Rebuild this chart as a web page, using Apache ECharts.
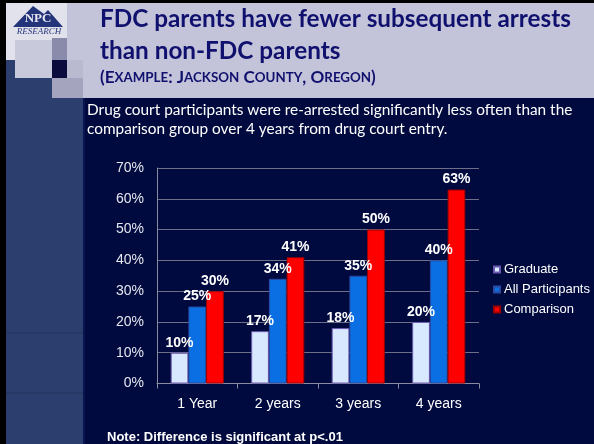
<!DOCTYPE html>
<html><head><meta charset="utf-8">
<script src="https://cdn.jsdelivr.net/npm/echarts@6/dist/echarts.min.js"></script>
<style>html,body{margin:0;padding:0;background:#010a3f;}#c{width:594px;height:444px;}</style>
</head><body><div id="c"></div>
<script>
// ---- data ----
const categories = ['1 Year', '2 years', '3 years', '4 years'];
const graduate = [10, 17, 18, 20];
const allParticipants = [25, 34, 35, 40];
const comparison = [30, 41, 50, 63];
const seriesNames = ['Graduate', 'All Participants', 'Comparison'];
const yTicks = [0, 10, 20, 30, 40, 50, 60, 70];

const titleLine1 = 'FDC parents have fewer subsequent arrests';
const titleLine2 = 'than non-FDC parents';
const subtitleParts = [['(E','b'],['XAMPLE','s'],[': J','b'],['ACKSON','s'],[' C','b'],['OUNTY','s'],[', O','b'],['REGON','s'],[')','b']];
const bodyLine1 = 'Drug court participants were re-arrested significantly less often than the';
const bodyLine2 = 'comparison group over 4 years from drug court entry.';
const noteText = 'Note: Difference is significant at p<.01';

// ---- font fitting ----
const cv = document.createElement('canvas').getContext('2d');
function w(text, weight, family, size){ cv.font = weight + ' ' + size + 'px ' + family; return cv.measureText(text).width; }
function fit(text, weight, family, target){ return 100 * target / w(text, weight, family, 100); }
const TF = 'Lato';
const titleSize = fit(titleLine1, 'bold', TF, 471);
const bodySize = fit(bodyLine1, 'normal', TF, 486);
const noteSize = fit(noteText, 'bold', 'Liberation Sans', 236);
// subtitle small caps
const smallRatio = 0.78;
let subUnit = 0;
subtitleParts.forEach(p => { subUnit += w(p[0], 'bold', TF, p[1] === 'b' ? 100 : 100 * smallRatio); });
const subBig = 100 * 276 / subUnit;
const subSmall = subBig * smallRatio;
let subText = subtitleParts.map(p => '{' + p[1] + '|' + p[0] + '}').join('');

const chart = echarts.init(document.getElementById('c'), null, {renderer: 'canvas'});
const lab = {show: true, position: 'top', distance: 3, color: '#ffffff', fontWeight: 'bold', fontSize: 14,
  fontFamily: 'Liberation Sans, Arial, sans-serif', formatter: '{c}%'};

const option = {
  backgroundColor: '#010a3f',
  animation: false,
  graphic: [
    {type: 'rect', shape: {x: 0, y: 0, width: 594, height: 98}, style: {fill: '#c3c3d9'}, z: -10},
    {type: 'rect', shape: {x: 0, y: 60, width: 83, height: 384}, style: {fill: '#2b3e6e'}, z: -9},
    {type: 'rect', shape: {x: 83, y: 98, width: 2, height: 346}, style: {fill: '#0a1450'}, z: -9},
    {type: 'line', shape: {x1: 6, y1: 333, x2: 83, y2: 333}, style: {stroke: '#24365f', lineWidth: 1}, z: -8},
    {type: 'line', shape: {x1: 6, y1: 393, x2: 83, y2: 393}, style: {stroke: '#24365f', lineWidth: 1}, z: -8},
    {type: 'rect', shape: {x: 6, y: 3, width: 61, height: 57}, style: {fill: '#e2e2ec'}, z: -8},
    {type: 'rect', shape: {x: 67, y: 60, width: 16, height: 18}, style: {fill: '#b9b9cf'}, z: -8},
    {type: 'rect', shape: {x: 52, y: 78, width: 31, height: 20}, style: {fill: '#a4a4be'}, z: -8},
    {type: 'rect', shape: {x: 15, y: 40, width: 37, height: 38}, style: {fill: '#c9c9dc'}, z: -7},
    {type: 'rect', shape: {x: 52, y: 38, width: 15, height: 22}, style: {fill: '#8a8aaa'}, z: -7},
    {type: 'rect', shape: {x: 52, y: 60, width: 15, height: 18}, style: {fill: '#0b0b3e'}, z: -7},
    {type: 'rect', shape: {x: 0, y: 0, width: 594, height: 3}, style: {fill: '#000000'}, z: -5},
    {type: 'rect', shape: {x: 0, y: 0, width: 6, height: 444}, style: {fill: '#000000'}, z: -5},
    // logo
    {type: 'polygon', shape: {points: [[13, 27], [33, 6], [44, 14], [48, 10], [63, 27]]}, style: {fill: '#24347a'}, z: -4},
    {type: 'text', style: {x: 38, y: 19, text: 'NPC', fill: '#e6e6f0', font: 'bold 13px "Liberation Serif", serif', textAlign: 'center', textVerticalAlign: 'middle'}, z: -3},
    {type: 'text', style: {x: 39, y: 32, text: 'RESEARCH', fill: '#2a3a7e', font: 'italic 9px "Liberation Serif", serif', textAlign: 'center', textVerticalAlign: 'middle'}, z: -3},
    // titles
    {type: 'text', style: {x: 100, y: 27 - titleSize * 0.32, text: titleLine1, fill: '#10106e', font: 'bold ' + titleSize + 'px ' + TF, textVerticalAlign: 'middle'}},
    {type: 'text', style: {x: 100, y: 58.5 - titleSize * 0.32, text: titleLine2, fill: '#10106e', font: 'bold ' + titleSize + 'px ' + TF, textVerticalAlign: 'middle'}},
    {type: 'text', style: {x: 100, y: 83 - subBig * 0.32, text: subText, fill: '#10106e', textVerticalAlign: 'middle',
      rich: {b: {fontSize: subBig, fontWeight: 'bold', fontFamily: TF, fill: '#10106e', color: '#10106e'},
             s: {fontSize: subSmall, fontWeight: 'bold', fontFamily: TF, fill: '#10106e', color: '#10106e'}}}},
    {type: 'text', style: {x: 87, y: 115 - bodySize * 0.32, text: bodyLine1, fill: '#ffffff', font: bodySize + 'px ' + TF, textVerticalAlign: 'middle'}},
    {type: 'text', style: {x: 87, y: 133.5 - bodySize * 0.32, text: bodyLine2, fill: '#ffffff', font: bodySize + 'px ' + TF, textVerticalAlign: 'middle'}},
    {type: 'text', style: {x: 107, y: 437, text: noteText, fill: '#ffffff', font: 'bold ' + noteSize + 'px "Liberation Sans", Arial', textVerticalAlign: 'middle'}}
  ],
  legend: {
    orient: 'vertical', left: 493, top: 263, icon: 'rect', itemWidth: 6, itemHeight: 6, itemGap: 7, padding: 0,
    data: seriesNames,
    textStyle: {color: '#ffffff', fontSize: 13, fontFamily: 'Liberation Sans, Arial, sans-serif', padding: [0, 0, 0, -1]}
  },
  grid: {left: 157, right: 115, top: 168, bottom: 60.5, containLabel: false},
  xAxis: {
    type: 'category', data: categories,
    axisLine: {lineStyle: {color: '#8a8aa0', width: 1}},
    axisTick: {show: true, length: 5, lineStyle: {color: '#8a8aa0'}},
    axisLabel: {color: '#ffffff', fontSize: 14, margin: 14, fontFamily: 'Liberation Sans, Arial, sans-serif'}
  },
  yAxis: {
    type: 'value', min: yTicks[0], max: yTicks[yTicks.length - 1], interval: 10,
    axisLine: {show: true, lineStyle: {color: '#8a8aa0'}},
    axisTick: {show: false},
    splitLine: {lineStyle: {color: '#6e6e88', width: 1}},
    axisLabel: {color: '#e6e6ee', fontSize: 14, margin: 13, fontFamily: 'Liberation Sans, Arial, sans-serif', formatter: '{value}%'}
  },
  series: [
    {name: seriesNames[0], type: 'bar', data: graduate, barGap: '0%', barCategoryGap: '34%',
      itemStyle: {color: '#d8e8ff', borderColor: '#6a58b0', borderWidth: 1}, label: lab},
    {name: seriesNames[1], type: 'bar', data: allParticipants, barGap: '0%', barCategoryGap: '34%',
      itemStyle: {color: '#0a6fe2', borderColor: '#2a4aa0', borderWidth: 1}, label: lab},
    {name: seriesNames[2], type: 'bar', data: comparison, barGap: '0%', barCategoryGap: '34%',
      itemStyle: {color: '#ff0000', borderColor: '#a00000', borderWidth: 1}, label: lab}
  ]
};
chart.setOption(option);
</script></body></html>
